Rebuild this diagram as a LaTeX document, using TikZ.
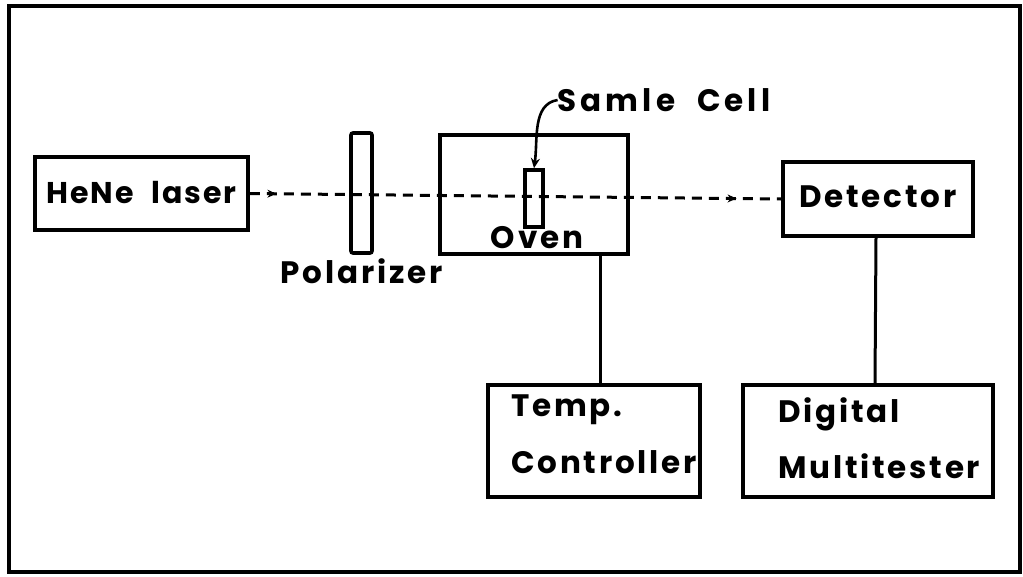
\documentclass[tikz,border=0pt]{standalone}
\usepackage{fontspec}
\setmainfont{Poppins}[LetterSpace=9,WordSpace=1.6]
\usetikzlibrary{arrows.meta,decorations.markings}
\begin{document}
\begin{tikzpicture}[x=1pt,y=-1pt,
  box/.style={draw,line width=3.6pt,minimum width=#1,inner sep=0pt},
  lbl/.style={font=\fontsize{31}{33}\selectfont\bfseries,inner sep=0pt},
  beam/.style={line width=3pt,dash pattern=on 10pt off 7pt},
  wire/.style={line width=3pt}]
\useasboundingbox (0,0) rectangle (1023,576);
\draw[line width=4.5pt] (9,6) rectangle (1020,572);
% boxes
\node[box=213pt,minimum height=73pt] (laser) at (141.5,193.5) {};
\node[lbl,font=\fontsize{30}{33}\selectfont\bfseries\addfontfeatures{LetterSpace=6}] (lasertxt) at ([yshift=1pt]laser.center) {HeNe\hspace{18pt}laser};
\node[box=21pt,minimum height=120pt,rounded corners=2pt] (pol) at (361.5,193) {};
\node[lbl,anchor=north] (poltxt) at (361.5,258) {Polarizer};
\node[box=188pt,minimum height=119pt] (oven) at (534,194.5) {};
\node[box=18pt,minimum height=57pt] (cell) at (534,198.5) {};
\node[lbl] (oventxt) at (537,238) {Oven};
\node[lbl,font=\fontsize{31}{33}\selectfont\bfseries\addfontfeatures{LetterSpace=13}] (celltxt) at (664,100) {Samle\hspace{22pt}Cell};
\node[box=190pt,minimum height=74pt] (det) at (878,199) {};
\node[lbl] (dettxt) at ([yshift=2pt]det.center) {Detector};
\node[box=212pt,minimum height=112pt] (temp) at (594,441) {};
\node[lbl,anchor=west] (temp1) at (511,410) {Temp.};
\node[lbl,anchor=west] (temp2) at (511,462) {Controller};
\node[box=250pt,minimum height=112pt] (dmm) at (868,441) {};
\node[lbl,anchor=west] (dmm1) at (778,414) {Digital};
\node[lbl,anchor=west] (dmm2) at (778,466) {Multitester};
% beam
\draw[beam,postaction={decorate},decoration={markings,
  mark=at position 0.05 with {\arrow[line width=1pt]{Stealth[length=9pt,width=8pt]}},
  mark=at position 0.916 with {\arrow[line width=1pt]{Stealth[length=9pt,width=8pt]}}}]
  (laser.east) -- (det.west);
% sample cell pointer
\draw[wire,line width=2.6pt,-{Stealth[length=10pt,width=9pt]}] (celltxt.west) .. controls (532,104) and (538,140) .. (cell.north);
% wires
\draw[wire] ([xshift=66pt]oven.south) -- ([xshift=6pt]temp.north);
\draw[wire] ([xshift=-2pt]det.south) -- ([xshift=7pt]dmm.north);
\end{tikzpicture}
\end{document}
